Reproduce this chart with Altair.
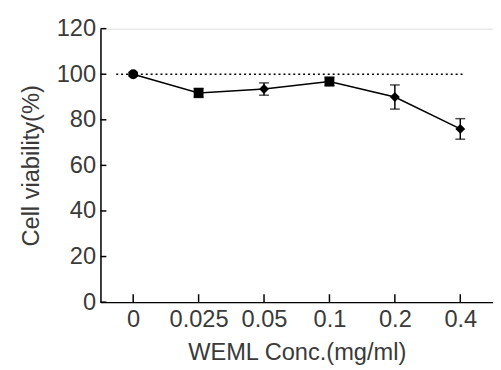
import altair as alt
import pandas as pd

conc = ["0", "0.025", "0.05", "0.1", "0.2", "0.4"]
viability = [100, 91.8, 93.5, 96.8, 90.0, 76.0]
err = [0.8, 2.0, 2.7, 1.8, 5.3, 4.5]
shapes = ["circle", "square", "diamond", "square", "diamond", "diamond"]
y_ticks = [0, 20, 40, 60, 80, 100, 120]

df = pd.DataFrame({
    "conc": conc,
    "v": viability,
    "lo": [a - b for a, b in zip(viability, err)],
    "hi": [a + b for a, b in zip(viability, err)],
    "shape": shapes,
})
ticks_df = pd.DataFrame({"t": y_ticks})

W, H = 399, 278
FONT = "Liberation Sans"
GREY = "#3a3a3a"

x_enc = alt.X("conc:N", sort=conc,
              scale=alt.Scale(type="point", padding=0.5),
              axis=alt.Axis(title="WEML Conc.(mg/ml)", labelAngle=0, ticks=False,
                            labelFontSize=24, titleFontSize=24, labelFont=FONT, titleFont=FONT,
                            labelColor=GREY, titleColor=GREY, labelPadding=6, titlePadding=9,
                            domainColor="black", domainWidth=1.5, grid=False, titleFontWeight="normal"))
y_scale = alt.Scale(domain=[0, 120], nice=False, zero=True)
y_enc = alt.Y("v:Q", scale=y_scale,
              axis=alt.Axis(title="Cell viability(%)", values=y_ticks, ticks=False,
                            labelFontSize=24, titleFontSize=24, labelFont=FONT, titleFont=FONT,
                            labelColor=GREY, titleColor=GREY, labelPadding=5, titlePadding=13,
                            domainColor="black", domainWidth=1.5, grid=False, titleFontWeight="normal"))

base = alt.Chart(df)

ref = alt.Chart(pd.DataFrame({"r": [100]})).mark_rule(
    color="black", strokeDash=[2, 3], strokeWidth=1.5
).encode(y=alt.Y("r:Q", scale=y_scale), x=alt.value(16), x2=alt.value(370))

line = base.mark_line(color="black", strokeWidth=1.5).encode(x=x_enc, y=y_enc)

bars = base.mark_rule(color="black", strokeWidth=1.5).encode(
    x=alt.X("conc:N", sort=conc), y=alt.Y("lo:Q", scale=y_scale), y2="hi:Q")
cap_lo = base.mark_tick(color="black", thickness=1.5, size=10, orient="horizontal").encode(
    x=alt.X("conc:N", sort=conc), y=alt.Y("lo:Q", scale=y_scale))
cap_hi = base.mark_tick(color="black", thickness=1.5, size=10, orient="horizontal").encode(
    x=alt.X("conc:N", sort=conc), y=alt.Y("hi:Q", scale=y_scale))

pts = base.mark_point(filled=True, color="black", opacity=1, size=100).encode(
    x=alt.X("conc:N", sort=conc), y=alt.Y("v:Q", scale=y_scale),
    shape=alt.Shape("shape:N", scale=None, legend=None))

xt = base.mark_rule(color="black", strokeWidth=1.5).encode(
    x=alt.X("conc:N", sort=conc), y=alt.value(H), y2=alt.value(H - 8))
yt = alt.Chart(ticks_df).mark_rule(color="black", strokeWidth=1.5).encode(
    y=alt.Y("t:Q", scale=y_scale), x=alt.value(0), x2=alt.value(6))

chart = alt.layer(ref, line, bars, cap_lo, cap_hi, pts, xt, yt).properties(
    width=W, height=H,
    autosize=alt.AutoSizeParams(type="none"),
    padding={"left": 94, "top": 18, "right": 0, "bottom": 66},
).configure_view(stroke=None).configure(background="white")

chart.save("out.html", embed_options={"renderer": "svg", "actions": False})
